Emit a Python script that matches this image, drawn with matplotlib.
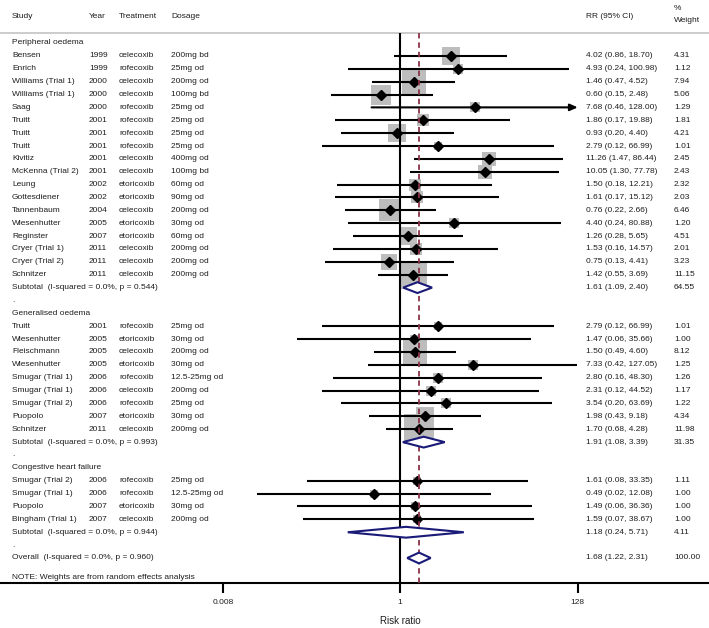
import numpy as np
import matplotlib.pyplot as plt
from matplotlib.patches import Polygon
from matplotlib.ticker import FixedLocator, NullLocator, FixedFormatter

plt.rcParams['font.family'] = ['Liberation Sans', 'DejaVu Sans']

groups = ['Peripheral oedema', 'Generalised oedema', 'Congestive heart failure']

study = ['Bensen', 'Enrich', 'Williams (Trial 1)', 'Williams (Trial 1)', 'Saag',
         'Truitt', 'Truitt', 'Truitt', 'Kivitiz', 'McKenna (Trial 2)', 'Leung',
         'Gottesdiener', 'Tannenbaum', 'Wiesenhutter', 'Reginster',
         'Cryer (Trial 1)', 'Cryer (Trial 2)', 'Schnitzer',
         'Truitt', 'Wiesenhutter', 'Fleischmann', 'Wiesenhutter',
         'Smugar (Trial 1)', 'Smugar (Trial 1)', 'Smugar (Trial 2)', 'Puopolo',
         'Schnitzer',
         'Smugar (Trial 2)', 'Smugar (Trial 1)', 'Puopolo', 'Bingham (Trial 1)']
year = ['1999', '1999', '2000', '2000', '2000', '2001', '2001', '2001', '2001',
        '2001', '2002', '2002', '2004', '2005', '2007', '2011', '2011', '2011',
        '2001', '2005', '2005', '2005', '2006', '2006', '2006', '2007', '2011',
        '2006', '2006', '2007', '2007']
treatment = ['celecoxib', 'rofecoxib', 'celecoxib', 'celecoxib', 'rofecoxib',
             'rofecoxib', 'rofecoxib', 'rofecoxib', 'celecoxib', 'celecoxib',
             'etoricoxib', 'etoricoxib', 'celecoxib', 'etoricoxib', 'etoricoxib',
             'celecoxib', 'celecoxib', 'celecoxib',
             'rofecoxib', 'etoricoxib', 'celecoxib', 'etoricoxib', 'rofecoxib',
             'celecoxib', 'rofecoxib', 'etoricoxib', 'celecoxib',
             'rofecoxib', 'rofecoxib', 'etoricoxib', 'celecoxib']
dosage = ['200mg bd', '25mg od', '200mg od', '100mg bd', '25mg od', '25mg od',
          '25mg od', '25mg od', '400mg od', '100mg bd', '60mg od', '90mg od',
          '200mg od', '30mg od', '60mg od', '200mg od', '200mg od', '200mg od',
          '25mg od', '30mg od', '200mg od', '30mg od', '12.5-25mg od',
          '200mg od', '25mg od', '30mg od', '200mg od',
          '25mg od', '12.5-25mg od', '30mg od', '200mg od']
group = [0] * 18 + [1] * 9 + [2] * 4
rr = [4.02, 4.93, 1.46, 0.60, 7.68, 1.86, 0.93, 2.79, 11.26, 10.05, 1.50, 1.61,
      0.76, 4.40, 1.26, 1.53, 0.75, 1.42,
      2.79, 1.47, 1.50, 7.33, 2.80, 2.31, 3.54, 1.98, 1.70,
      1.61, 0.49, 1.49, 1.59]
lo = [0.86, 0.24, 0.47, 0.15, 0.46, 0.17, 0.20, 0.12, 1.47, 1.30, 0.18, 0.17,
      0.22, 0.24, 0.28, 0.16, 0.13, 0.55,
      0.12, 0.06, 0.49, 0.42, 0.16, 0.12, 0.20, 0.43, 0.68,
      0.08, 0.02, 0.06, 0.07]
hi = [18.70, 100.98, 4.52, 2.48, 128.00, 19.88, 4.40, 66.99, 86.44, 77.78,
      12.21, 15.12, 2.66, 80.88, 5.65, 14.57, 4.41, 3.69,
      66.99, 35.66, 4.60, 127.05, 48.30, 44.52, 63.69, 9.18, 4.28,
      33.35, 12.08, 36.36, 38.67]
weight = [4.31, 1.12, 7.94, 5.06, 1.29, 1.81, 4.21, 1.01, 2.45, 2.43, 2.32,
          2.03, 6.46, 1.20, 4.51, 2.01, 3.23, 11.15,
          1.01, 1.00, 8.12, 1.25, 1.26, 1.17, 1.22, 4.34, 11.98,
          1.11, 1.00, 1.00, 1.00]

sub_label = ['Subtotal  (I-squared = 0.0%, p = 0.544)',
             'Subtotal  (I-squared = 0.0%, p = 0.993)',
             'Subtotal  (I-squared = 0.0%, p = 0.944)']
sub_rr = [1.61, 1.91, 1.18]
sub_lo = [1.09, 1.08, 0.24]
sub_hi = [2.40, 3.39, 5.71]
sub_w = [64.55, 31.35, 4.11]

overall_label = 'Overall  (I-squared = 0.0%, p = 0.960)'
overall_rr, overall_lo, overall_hi, overall_w = 1.68, 1.22, 2.31, 100.00

tick_vals = [0.008, 1, 128]
tick_labels = ['0.008', '1', '128']
x_max = 128

fig = plt.figure(figsize=(7.09, 6.28), dpi=100)
ax = fig.add_axes([0, 45 / 628, 1, 550 / 628])
ax.set_xscale('log')
px_per = 354.6 / np.log(128 / 0.008)
ax.set_xlim(np.exp(-400 / px_per), np.exp(309 / px_per))
row_h = 12.875
ax.set_ylim(540 / row_h, -10 / row_h)

txt = dict(fontsize=6, color='#1e1e1e', va='center')
tr = ax.get_yaxis_transform()
c_study, c_year, c_treat, c_dose, c_rr, c_w = 12 / 709, 89 / 709, 119 / 709, 171 / 709, 586 / 709, 674 / 709


def ci_text(r, l, h):
    return '%.2f (%.2f, %.2f)' % (r, l, h)


def diamond(est, l, h, y, hh=0.42):
    ax.add_patch(Polygon([(l, y), (est, y - hh), (h, y), (est, y + hh)],
                         closed=True, facecolor='white', edgecolor='#1a1a78',
                         lw=1.5, zorder=5))


row = 0
for g, gname in enumerate(groups):
    ax.text(c_study, row, gname, transform=tr, **txt)
    row += 1
    for i in [k for k in range(len(study)) if group[k] == g]:
        ax.text(c_study, row, study[i], transform=tr, **txt)
        ax.text(c_year, row, year[i], transform=tr, **txt)
        ax.text(c_treat, row, treatment[i], transform=tr, **txt)
        ax.text(c_dose, row, dosage[i], transform=tr, **txt)
        ax.text(c_rr, row, ci_text(rr[i], lo[i], hi[i]), transform=tr, **txt)
        ax.text(c_w, row, '%.2f' % weight[i], transform=tr, **txt)
        ax.scatter(rr[i], row, s=37.6 * weight[i], marker='s', color='#bdbdbd',
                   lw=0, zorder=2)
        if hi[i] >= x_max:
            ax.annotate('', xy=(x_max, row), xytext=(lo[i], row),
                        arrowprops=dict(arrowstyle='-|>,head_length=0.45,head_width=0.2',
                                        color='black', lw=1.5, shrinkA=0, shrinkB=0),
                        zorder=3)
        else:
            ax.plot([lo[i], min(hi[i], x_max)], [row, row], color='black',
                    lw=1.5, solid_capstyle='butt', zorder=3)
        ax.plot(rr[i], row, marker='D', ms=4.6, color='black', zorder=4)
        row += 1
    ax.text(c_study, row, sub_label[g], transform=tr, **txt)
    ax.text(c_rr, row, ci_text(sub_rr[g], sub_lo[g], sub_hi[g]), transform=tr, **txt)
    ax.text(c_w, row, '%.2f' % sub_w[g], transform=tr, **txt)
    diamond(sub_rr[g], sub_lo[g], sub_hi[g], row)
    row += 1
    ax.text(c_study, row, '.', transform=tr, **txt)
    row += 1

ax.text(c_study, row, overall_label, transform=tr, **txt)
ax.text(c_rr, row, ci_text(overall_rr, overall_lo, overall_hi), transform=tr, **txt)
ax.text(c_w, row, '%.2f' % overall_w, transform=tr, **txt)
diamond(overall_rr, overall_lo, overall_hi, row)
ax.text(c_study, row + 1.55, 'NOTE: Weights are from random effects analysis',
        transform=tr, **txt)

ax.axvline(1, color='black', lw=1.5, zorder=3)
ax.axvline(overall_rr, color='#8a3345', lw=1.3, ls=(0, (3, 2.2)), zorder=4)

# header
hy = -26 / row_h
for x, s in [(c_study, 'Study'), (c_year, 'Year'), (c_treat, 'Treatment'),
             (c_dose, 'Dosage'), (c_rr, 'RR (95% CI)')]:
    ax.text(x, hy, s, transform=tr, **txt)
ax.text(c_w, -35 / row_h, '%', transform=tr, **txt)
ax.text(c_w, -23 / row_h, 'Weight', transform=tr, **txt)

for side in ['left', 'right']:
    ax.spines[side].set_visible(False)
ax.spines['top'].set_color('#c8c8c8')
ax.spines['top'].set_linewidth(1.3)
ax.spines['bottom'].set_linewidth(1.5)
ax.set_yticks([])
ax.xaxis.set_major_locator(FixedLocator(tick_vals))
ax.xaxis.set_major_formatter(FixedFormatter(tick_labels))
ax.xaxis.set_minor_locator(NullLocator())
ax.tick_params(axis='x', length=7.5, width=1.5, pad=4, labelsize=6,
               labelcolor='#1e1e1e')
ax.text(1, -38 / 550, 'Risk ratio', transform=ax.get_xaxis_transform(),
        ha='center', va='center', fontsize=7, color='#1e1e1e')

fig.savefig('out.png', dpi=100)
